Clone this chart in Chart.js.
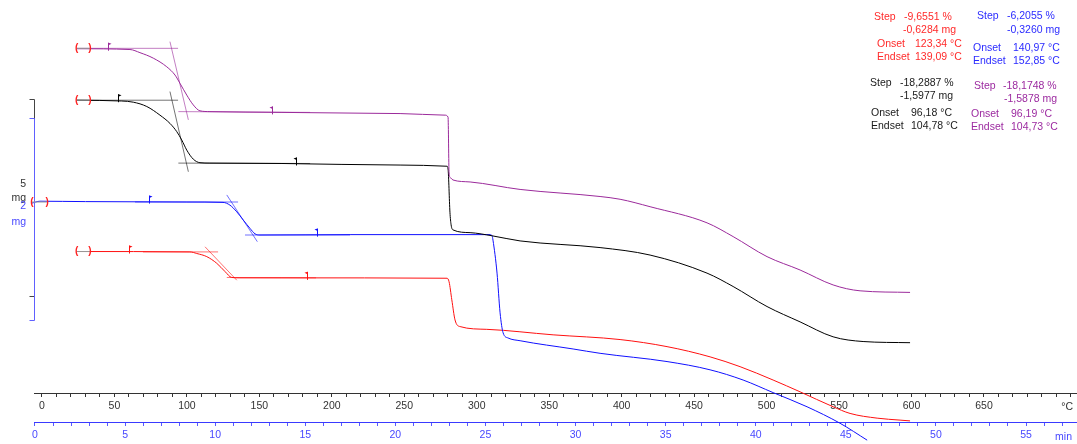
<!DOCTYPE html>
<html>
<head>
<meta charset="utf-8">
<script src="https://cdn.jsdelivr.net/npm/chart.js@4.4.0/dist/chart.umd.min.js"></script>
<style>
html, body { margin: 0; padding: 0; background: #fff; }
canvas { display: block; }
</style>
</head>
<body>
<canvas id="myChart" width="1077" height="444"></canvas>
<script>
// TGA curves: [temperature °C, displayed mass (mg, offset per curve)]
var purpleCurve = [[24.0, 8.76], [60.7, 8.74], [67.6, 8.66], [76.8, 8.52], [86.1, 8.30], [91.8, 8.09], [95.2, 7.88],
    [99.9, 7.58], [104.4, 7.33], [109.0, 7.18], [115.9, 7.16], [165.6, 7.14], [247.1, 7.11], [278.1, 7.07],
    [280.2, 7.02], [280.9, 5.60], [281.8, 5.48], [283.6, 5.42], [295.4, 5.37], [329.9, 5.18], [385.1, 5.00],
    [398.9, 4.93], [419.6, 4.74], [458.9, 4.33], [476.9, 3.98], [500.3, 3.47], [523.1, 3.13], [545.9, 2.75],
    [564.5, 2.60], [599.0, 2.56]];
var blackCurve = [[24.0, 7.45], [55.0, 7.43], [63.0, 7.40], [72.3, 7.29], [81.4, 7.07], [88.3, 6.86], [93.0, 6.65],
    [96.4, 6.44], [99.9, 6.18], [104.4, 5.95], [109.0, 5.86], [115.9, 5.85], [165.6, 5.84], [247.1, 5.80],
    [279.5, 5.77], [280.2, 5.70], [281.5, 4.60], [282.3, 4.28], [283.6, 4.15], [295.4, 4.08], [310.6, 4.00],
    [329.9, 3.87], [385.1, 3.70], [419.6, 3.51], [458.9, 3.05], [476.9, 2.71], [500.3, 2.20], [523.1, 1.81],
    [545.9, 1.43], [566.6, 1.31], [599.0, 1.28]];
var blueCurve = [[-7.1, 4.83], [-1.4, 4.88], [30.0, 4.87], [100.0, 4.86], [124.9, 4.85], [129.7, 4.78], [134.4, 4.61],
    [138.9, 4.40], [143.5, 4.19], [147.0, 4.05], [150.4, 4.02], [212.6, 4.03], [309.2, 4.03], [310.6, 4.00],
    [311.2, 3.89], [314.0, 3.05], [316.1, 2.04], [318.2, 1.53], [321.6, 1.40], [329.9, 1.33], [366.5, 1.12],
    [385.1, 1.01], [431.3, 0.80], [461.0, 0.59], [483.8, 0.33], [504.5, 0.01], [527.9, -0.35], [550.7, -0.77],
    [569.4, -1.20]];
var redCurve = [[24.0, 3.60], [102.1, 3.59], [106.8, 3.55], [113.7, 3.47], [120.6, 3.30], [126.3, 3.09], [130.9, 2.94],
    [136.6, 2.93], [165.6, 2.93], [279.5, 2.92], [280.9, 2.83], [282.8, 2.37], [285.0, 1.86], [288.5, 1.69],
    [306.9, 1.62], [352.7, 1.48], [398.9, 1.36], [431.3, 1.18], [461.0, 0.92], [481.7, 0.67], [504.5, 0.33],
    [523.1, 0.03], [545.9, -0.35], [557.6, -0.52], [576.3, -0.64], [592.1, -0.69], [599.0, -0.71]];

// evaluation lines (baseline before, inflection tangent, baseline after)
var purpleEval = [[[24.0, 8.77], [93.9, 8.77]], [[88.3, 8.94], [101.0, 6.95]], [[94.1, 7.16], [185.0, 7.14]]];
var blackEval = [[[24.0, 7.45], [93.9, 7.45]], [[88.3, 7.67], [101.0, 5.63]], [[94.1, 5.85], [185.0, 5.84]]];
var blueEval = [[[64.2, 4.86], [135.3, 4.86]], [[127.5, 5.04], [148.6, 3.85]], [[140.1, 4.02], [212.6, 4.02]]];
var redEval = [[[69.7, 3.59], [121.5, 3.59]], [[112.5, 3.72], [134.4, 2.87]], [[127.5, 2.94], [189.1, 2.93]]];

// flags [temperature, mass, direction]
var purpleFlags = [[45.5, 8.76, 1], [158.7, 7.14, -1]];
var blackFlags = [[52.5, 7.45, 1], [175.3, 5.84, -1]];
var blueFlags = [[73.8, 4.87, 1], [189.8, 4.03, -1]];
var redFlags = [[60.0, 3.60, 1], [182.9, 2.93, -1]];

// integration brackets [from °C, to °C, mass]
var brackets = [[24.0, 33.1, 8.77], [24.0, 33.1, 7.45], [-6.9, 3.5, 4.86], [24.0, 33.1, 3.60]];

var resultRed = [['Step', '-9,6551 %'], ['', '-0,6284 mg'], ['Onset', '123,34 °C'], ['Endset', '139,09 °C']];
var resultBlue = [['Step', '-6,2055 %'], ['', '-0,3260 mg'], ['Onset', '140,97 °C'], ['Endset', '152,85 °C']];
var resultBlack = [['Step', '-18,2887 %'], ['', '-1,5977 mg'], ['Onset', '96,18 °C'], ['Endset', '104,78 °C']];
var resultPurple = [['Step', '-18,1748 %'], ['', '-1,5878 mg'], ['Onset', '96,19 °C'], ['Endset', '104,73 °C']];

// scale bars on the left: [top, bottom] in display mg
var barBlack = [7.48, 2.47];  // 5 mg
var barBlue = [7.00, 1.86];   // 2 mg

var cPurple = '#9b2a9b', cBlack = '#000000', cBlue = '#1010ff', cRed = '#ff1010';
var FONT = 'Liberation Sans';

function pts(a) {
    return a.map(function (p) { return {x: p[0], y: p[1]}; });
}

var datasets = [];
function addCurve(data, color) {
    datasets.push({data: pts(data), borderColor: color, borderWidth: 1, pointRadius: 0,
        cubicInterpolationMode: 'monotone', fill: false, clip: false});
}
function addEval(lines, color) {
    lines.forEach(function (l) {
        datasets.push({data: pts(l), borderColor: color, borderWidth: 1, pointRadius: 0, fill: false, clip: false});
    });
}
addCurve(purpleCurve, cPurple);
addCurve(blackCurve, cBlack);
addCurve(blueCurve, cBlue);
addCurve(redCurve, cRed);
addEval(purpleEval, 'rgba(155,42,155,0.6)');
addEval(blackEval, 'rgba(0,0,0,0.55)');
addEval(blueEval, 'rgba(16,16,255,0.6)');
addEval(redEval, 'rgba(255,16,16,0.6)');

var overlay = {
    id: 'overlay',
    afterDatasetsDraw: function (chart) {
        var ctx = chart.ctx, xs = chart.scales.x, ys = chart.scales.y, area = chart.chartArea;
        ctx.save();
        ctx.lineWidth = 1;

        // scale bars
        var x0 = area.left + 0.5;
        function bar(b, color) {
            var y1 = Math.round(ys.getPixelForValue(b[0])) + 0.5, y2 = Math.round(ys.getPixelForValue(b[1])) + 0.5;
            ctx.strokeStyle = color;
            ctx.beginPath();
            ctx.moveTo(x0 - 5, y1); ctx.lineTo(x0, y1); ctx.lineTo(x0, y2); ctx.lineTo(x0 - 5, y2);
            ctx.stroke();
        }
        bar(barBlack, '#444');
        bar(barBlue, '#6060ff');
        ctx.font = '10.5px "' + FONT + '"';
        ctx.textBaseline = 'middle';
        ctx.textAlign = 'right';
        ctx.fillStyle = '#333';
        ctx.fillText('5', area.left - 8, 184);
        ctx.fillText('mg', area.left - 8, 198);
        ctx.fillStyle = '#4848ff';
        ctx.fillText('2', area.left - 8, 206);
        ctx.fillText('mg', area.left - 8, 222);

        // unit labels on the axes
        ctx.fillStyle = '#333';
        ctx.fillText('°C', chart.width - 4, 407);
        ctx.fillStyle = '#4848ff';
        ctx.fillText('min', chart.width - 5, 437);

        // brackets
        ctx.textAlign = 'center';
        ctx.font = 'bold 10px "' + FONT + '"';
        brackets.forEach(function (b) {
            var xa = xs.getPixelForValue(b[0]), xb = xs.getPixelForValue(b[1]), y = ys.getPixelForValue(b[2]);
            ctx.strokeStyle = '#999';
            ctx.beginPath(); ctx.moveTo(xa, y); ctx.lineTo(xb, y); ctx.stroke();
            ctx.fillStyle = '#ff2020';
            ctx.fillText('(', xa, y);
            ctx.fillText(')', xb, y);
        });

        // flags
        function flags(list, color) {
            ctx.strokeStyle = color; ctx.fillStyle = color;
            list.forEach(function (f) {
                var x = Math.round(xs.getPixelForValue(f[0])) + 0.5, y = ys.getPixelForValue(f[1]);
                ctx.beginPath(); ctx.moveTo(x, y + 2); ctx.lineTo(x, y - 6); ctx.stroke();
                ctx.beginPath();
                ctx.moveTo(x, y - 6); ctx.lineTo(x + 3 * f[2], y - 5); ctx.lineTo(x, y - 3.5);
                ctx.closePath(); ctx.fill();
            });
        }
        flags(purpleFlags, cPurple);
        flags(blackFlags, cBlack);
        flags(blueFlags, cBlue);
        flags(redFlags, cRed);

        // result boxes
        ctx.font = '10.5px "' + FONT + '"';
        ctx.textAlign = 'left';
        function box(rows, color, lx, vx, ys4) {
            ctx.fillStyle = color;
            rows.forEach(function (r, i) {
                if (r[0]) ctx.fillText(r[0], lx[i], ys4[i]);
                ctx.fillText(r[1], vx[i], ys4[i]);
            });
        }
        box(resultRed, '#ff2a2a', [874, 874, 877, 877], [904, 903, 915, 915], [17, 30, 44, 57]);
        box(resultBlue, '#2b2bff', [977, 977, 973, 973], [1007, 1007, 1013, 1013], [16, 30, 48, 61]);
        box(resultBlack, '#1a1a1a', [870, 870, 871, 871], [900, 900, 911, 911], [83, 96, 113, 126]);
        box(resultPurple, '#9c2aa0', [974, 974, 971, 971], [1003, 1004, 1011, 1011], [86, 99, 114, 127]);
        ctx.restore();
    }
};

new Chart('myChart', {
    type: 'line',
    data: {datasets: datasets},
    options: {
        responsive: false,
        animation: false,
        devicePixelRatio: 1,
        layout: {padding: {left: 34, right: 0, top: 0, bottom: 0}},
        plugins: {legend: {display: false}, tooltip: {enabled: false}},
        scales: {
            x: {
                type: 'linear', position: 'bottom', weight: 0, min: -5.52, max: 714.2,
                afterFit: function (s) { s.height = 29; },
                border: {display: true, color: '#333', width: 1},
                grid: {drawOnChartArea: false, drawTicks: true, tickLength: 4, color: '#333'},
                ticks: {
                    stepSize: 10, includeBounds: false, autoSkip: false, maxRotation: 0, maxTicksLimit: 200,
                    padding: 3, color: '#333', font: {family: FONT, size: 10.5},
                    callback: function (v) { return (v % 50 === 0 && v < 700) ? String(v) : ''; }
                }
            },
            x2: {
                type: 'linear', position: 'bottom', weight: 1, min: -0.055, max: 57.83,
                afterFit: function (s) { s.height = 22; },
                border: {display: true, color: '#3a3aff', width: 1},
                grid: {drawOnChartArea: false, drawTicks: true, tickLength: 4, color: '#5a5aff'},
                ticks: {
                    stepSize: 1, includeBounds: false, autoSkip: false, maxRotation: 0, maxTicksLimit: 200,
                    padding: 3, color: '#4848ff', font: {family: FONT, size: 10.5},
                    callback: function (v) { return v % 5 === 0 ? String(v) : ''; }
                }
            },
            y: {type: 'linear', min: 0, max: 10, display: false}
        }
    },
    plugins: [overlay]
});
</script>
</body>
</html>
